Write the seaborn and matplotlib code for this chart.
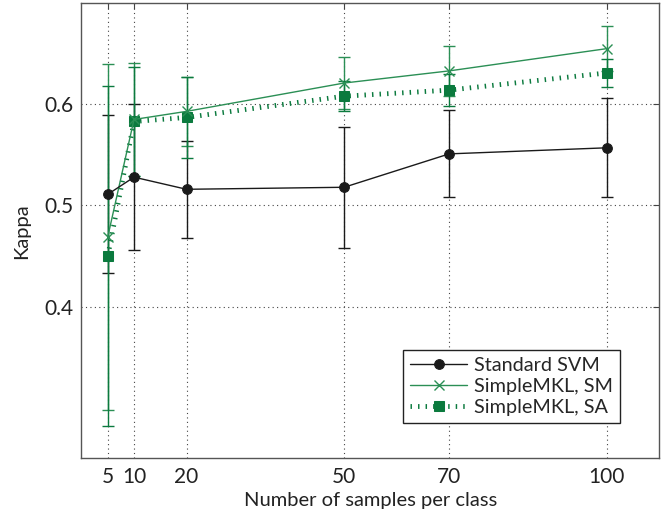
import matplotlib
matplotlib.use("Agg")
import matplotlib.pyplot as plt
import seaborn as sns
import pandas as pd
import numpy as np

# ---- data ----
samples = [5, 10, 20, 50, 70, 100]
svm_mean = [0.511, 0.528, 0.516, 0.518, 0.551, 0.557]
svm_err = [0.078, 0.072, 0.048, 0.060, 0.043, 0.049]
sm_mean = [0.469, 0.585, 0.593, 0.621, 0.633, 0.655]
sm_err = [0.171, 0.056, 0.034, 0.026, 0.025, 0.022]
sa_mean = [0.450, 0.583, 0.587, 0.608, 0.614, 0.631]
sa_err = [0.168, 0.054, 0.040, 0.015, 0.016, 0.014]
labels = ["Standard SVM", "SimpleMKL, SM", "SimpleMKL, SA"]
xticks = [5, 10, 20, 50, 70, 100]
yticks = [0.4, 0.5, 0.6]

sns.set_style("white")
plt.rcParams['font.family'] = ['Lato', 'DejaVu Sans']

fig = plt.figure(figsize=(6.68, 5.14), dpi=100)
ax = fig.add_axes([0.122, 0.108, 0.865, 0.886])

c_svm = "#1a1a1a"
c_sm = "#2b8f55"
c_sa = "#0b7a3e"

df_svm = pd.DataFrame({"x": samples, "y": svm_mean})
df_sm = pd.DataFrame({"x": samples, "y": sm_mean})
df_sa = pd.DataFrame({"x": samples, "y": sa_mean})

# error bars
ax.errorbar(samples, svm_mean, yerr=svm_err, fmt='none', ecolor=c_svm,
            elinewidth=1.0, capsize=4, capthick=1.0, zorder=2)
ax.errorbar(samples, sm_mean, yerr=sm_err, fmt='none', ecolor=c_sm,
            elinewidth=1.0, capsize=4, capthick=1.0, zorder=2)
ax.errorbar(samples, sa_mean, yerr=sa_err, fmt='none', ecolor=c_sa,
            elinewidth=1.0, capsize=4, capthick=1.0, zorder=2)

sns.lineplot(data=df_svm, x="x", y="y", ax=ax, color=c_svm, lw=1.0,
             marker='o', markersize=7, markeredgecolor=c_svm,
             markerfacecolor=c_svm, label=labels[0], zorder=5)
sns.lineplot(data=df_sm, x="x", y="y", ax=ax, color=c_sm, lw=1.0,
             marker='x', markersize=7, markeredgewidth=1.0,
             markeredgecolor=c_sm, label=labels[1], zorder=4)
sns.lineplot(data=df_sa, x="x", y="y", ax=ax, color=c_sa, lw=3.5,
             marker='s', markersize=7, markeredgecolor=c_sa,
             markerfacecolor=c_sa, label=labels[2], zorder=3)
line_sa = ax.get_lines()[-1]
line_sa.set_dashes((0.3, 1.25))
line_sa.set_dash_capstyle('butt')

ax.set_xlim(0, 110)
ax.set_ylim(0.25, 0.7)
ax.set_xticks(xticks)
ax.set_yticks(yticks)
ax.set_yticklabels(["0.4", "0.5", "0.6"])
ax.grid(True, linestyle=(0, (1, 3)), color="#444444", linewidth=0.8)
ax.tick_params(direction='in', top=True, right=True, length=4, pad=6,
               labelsize=15, color="#444444", labelcolor="#222222")
for s in ax.spines.values():
    s.set_color("#555555")
    s.set_linewidth(1.0)

ax.set_xlabel("Number of samples per class", fontsize=14.5, color="#222222",
              labelpad=4)
ax.set_ylabel("Kappa", fontsize=14.5, color="#222222", labelpad=10)

leg = ax.legend(loc='lower right', bbox_to_anchor=(0.9325, 0.0776), fontsize=14.3,
                frameon=True, fancybox=False, edgecolor='#222222',
                handlelength=2.9, labelspacing=0.2, borderpad=0.35,
                handletextpad=0.35, borderaxespad=0.0, framealpha=1)
leg.get_frame().set_linewidth(1.0)

fig.savefig("out.png", dpi=100)
